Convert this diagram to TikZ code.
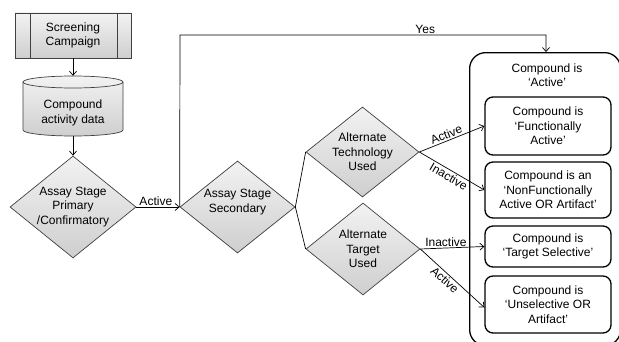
\documentclass[tikz,border=0pt]{standalone}
\usepackage{fontspec}
\setmainfont{Liberation Sans}
\usetikzlibrary{shapes.geometric,arrows.meta}
\begin{document}
\begin{tikzpicture}[x=1pt,y=1pt,
  every node/.style={font=\fontsize{12}{14.5}\selectfont, align=center},
  gfill/.style={top color=gray!10, bottom color=gray!38, draw=black!75, line width=0.7pt},
  dia/.style={diamond, gfill, inner sep=0pt},
  txt/.style={inner sep=0pt},
  res/.style={rectangle, rounded corners=8pt, draw=black, line width=1.3pt, fill=white, minimum width=126pt, inner sep=0pt},
  arr/.style={line width=0.7pt, -{Straight Barb[length=4pt,width=7pt]}},
  lbl/.style={font=\fontsize{12}{14}\selectfont, inner sep=1.5pt}
]
\clip (0,0) rectangle (619,341);
\fill[white] (0,0) rectangle (619,341);

% Screening campaign
\node[rectangle, gfill, minimum width=116pt, minimum height=45pt, inner sep=0pt] (scr) at (73,305.5) {};
\draw[black!75, line width=0.7pt] ([xshift=16pt]scr.north west) -- ([xshift=16pt]scr.south west);
\draw[black!75, line width=0.7pt] ([xshift=-14pt]scr.north east) -- ([xshift=-14pt]scr.south east);
\node[txt] (scrt) at (scr.center) {Screening\\Campaign};

% Cylinder
\path[gfill] (23,259) -- (23,211) arc[start angle=180, end angle=360, x radius=50, y radius=6]
  -- (123,259) arc[start angle=0, end angle=180, x radius=50, y radius=6] -- cycle;
\draw[black!75, line width=0.7pt] (23,259) arc[start angle=180, end angle=360, x radius=50, y radius=6];
\node[rectangle, minimum width=100pt, minimum height=60pt, inner sep=0pt] (cyl) at (73,235) {};
\node[txt] (cylt) at (73,228) {Compound\\activity data};

% Diamonds
\node[dia, minimum width=126pt, minimum height=102pt] (d1) at (73,134) {};
\node[txt] (d1t) at (d1.center) {Assay Stage\\Primary\\/Confirmatory};
\node[dia, minimum width=115pt, minimum height=92pt] (d2) at (237.5,134) {};
\node[txt] (d2t) at (237.5,139) {Assay Stage\\Secondary};
\node[dia, minimum width=113pt, minimum height=90pt] (d3) at (362.5,189) {};
\node[txt] (d3t) at (d3.center) {Alternate\\Technology\\Used};
\node[dia, minimum width=114pt, minimum height=92pt] (d4) at (363,92) {};
\node[txt] (d4t) at (d4.center) {Alternate\\Target\\Used};

% Big result box
\node[rectangle, rounded corners=16pt, draw=black, line width=1.3pt, fill=white,
      minimum width=151pt, minimum height=293pt, inner sep=0pt, anchor=north west] (big) at (469,289) {};
\node[txt] (bigt) at (547,266) {Compound is\\‘Active’};

\node[res, minimum height=58pt] (b1) at (548,215) {Compound is\\‘Functionally\\Active’};
\node[res, minimum height=56pt] (b2) at (548,151) {Compound is an\\‘NonFunctionally\\Active OR Artifact’};
\node[res, minimum height=41pt] (b3) at (548,94.5) {Compound is\\‘Target Selective’};
\node[res, minimum height=57pt] (b4) at (548,36.5) {Compound is\\‘Unselective OR\\Artifact’};

\coordinate (ya) at (180,306);
\coordinate (yb) at (546,306);

% Connectors
\draw[arr] (scr.south) -- (cyl.north);
\draw[arr] (cyl.south) -- (d1.north);
\draw[arr] (d1.east) -- node[lbl, above, pos=0.45] {Active} (d2.west);
\draw[arr] (d2.west) -- (ya) -- node[lbl, above, pos=0.67] {Yes} (yb) -- (big.north -| yb);
\draw[line width=0.7pt] (d2.east) -- (d3.west);
\draw[line width=0.7pt] (d2.east) -- (d4.west);
\draw[arr] (d3.east) -- node[lbl, sloped, above, pos=0.45] {Active} (b1.west);
\draw[arr] (d3.east) -- node[lbl, sloped, below, pos=0.5] {Inactive} (b2.west);
\draw[arr] (d4.east) -- node[lbl, above, pos=0.4] {Inactive} (b3.west);
\draw[arr] (d4.east) -- node[lbl, sloped, below, pos=0.45] {Active} ([yshift=-3pt]b4.west);
\end{tikzpicture}
\end{document}
